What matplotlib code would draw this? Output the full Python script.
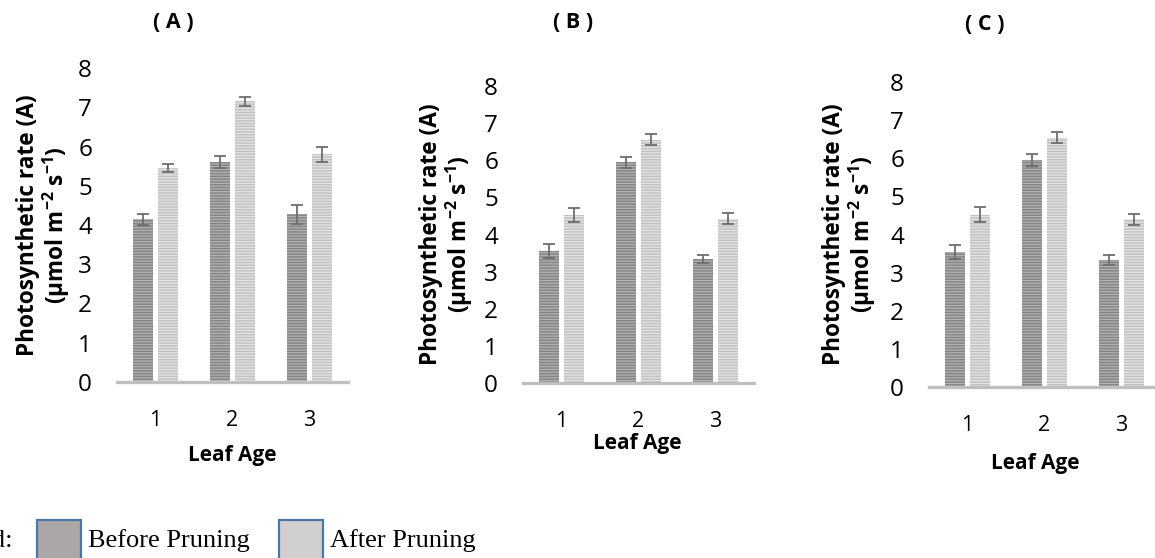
import matplotlib
matplotlib.use("Agg")
import matplotlib.pyplot as plt
import numpy as np
from matplotlib.patches import Rectangle

plt.rcParams["font.family"] = ["Open Sans", "DejaVu Sans"]
plt.rcParams["mathtext.fontset"] = "custom"
plt.rcParams["mathtext.rm"] = "Open Sans"
plt.rcParams["mathtext.bf"] = "Open Sans:bold"
plt.rcParams["hatch.linewidth"] = 1.1

W, H = 1155, 558

# data
leaf_age = [1, 2, 3]
panel_titles = ["( A )", "( B )", "( C )"]

before_a = [4.15, 5.6, 4.27]
before_a_err = [0.14, 0.16, 0.24]
after_a = [5.45, 7.15, 5.8]
after_a_err = [0.10, 0.11, 0.19]

before_b = [3.56, 5.95, 3.34]
before_b_err = [0.18, 0.15, 0.12]
after_b = [4.53, 6.55, 4.42]
after_b_err = [0.19, 0.15, 0.15]

before_c = [3.55, 5.95, 3.33]
before_c_err = [0.18, 0.15, 0.12]
after_c = [4.52, 6.54, 4.40]
after_c_err = [0.19, 0.15, 0.15]

panels = [
    (before_a, before_a_err, after_a, after_a_err),
    (before_b, before_b_err, after_b, after_b_err),
    (before_c, before_c_err, after_c, after_c_err),
]

# layout in pixels: axis-line left, baseline y, top (y=8) y
boxes = [(117, 382, 68), (523, 383, 86), (929, 387, 82)]
ylabel_x = [44, 447, 850]
title_pos = [(173, 23), (573, 22), (985, 24)]
xlabel_pos = [(232, 456), (637, 443), (1035, 463)]

DARK_FACE, DARK_HATCH = "#b3b3b3", "#858585"
LIGHT_FACE, LIGHT_HATCH = "#e4e4e4", "#c2c2c2"
ERR_COLOR = "#6e6e6e"

fig = plt.figure(figsize=(W / 100, H / 100), dpi=100)

x = np.array(leaf_age, dtype=float)
bw = 0.26
off = 0.162

for i, (bef, bef_err, aft, aft_err) in enumerate(panels):
    left, base, top = boxes[i]
    ax = fig.add_axes([left / W, 1 - base / H, 231 / W, (base - top) / H])
    ax.bar(x - off, bef, bw, color=DARK_FACE, edgecolor=DARK_HATCH,
           hatch="------", linewidth=0)
    ax.bar(x + off, aft, bw, color=LIGHT_FACE, edgecolor=LIGHT_HATCH,
           hatch="------", linewidth=0)
    ax.errorbar(x - off, bef, yerr=bef_err, fmt="none", ecolor=ERR_COLOR,
                elinewidth=1.3, capsize=4.5, capthick=1.3)
    ax.errorbar(x + off, aft, yerr=aft_err, fmt="none", ecolor=ERR_COLOR,
                elinewidth=1.3, capsize=4.5, capthick=1.3)
    ax.set_xlim(0.5, 3.5)
    ax.set_ylim(0, 8)
    ax.set_yticks(range(0, 9))
    ax.set_xticks(x)
    ax.set_xticklabels([str(v) for v in leaf_age])
    for s in ["top", "right", "left"]:
        ax.spines[s].set_visible(False)
    ax.spines["bottom"].set_color("#bfbfbf")
    ax.spines["bottom"].set_linewidth(2.4)
    ax.spines["bottom"].set_clip_on(False)
    ax.tick_params(axis="y", length=0, pad=18, labelsize=17.5, labelcolor="black")
    ax.tick_params(axis="x", length=0, pad=20, labelsize=15.5, labelcolor="black")

    fig.text(ylabel_x[i] / W, 1 - (base + top) / 2 / H,
             "Photosynthetic rate (A)\n(µmol m$\\mathbf{^{-2}}$ s$\\mathbf{^{-1}}$)",
             rotation=90, ha="center", va="center", multialignment="center",
             fontsize=16.3, fontweight="bold", linespacing=1.0)
    tx, ty = title_pos[i]
    fig.text(tx / W, 1 - ty / H, panel_titles[i], ha="center", va="center",
             fontsize=15.5, fontweight="bold")
    lx, ly = xlabel_pos[i]
    fig.text(lx / W, 1 - ly / H, "Leaf Age", ha="center", va="center",
             fontsize=15, fontweight="bold")

# legend strip at the bottom (cut off by the page edge)
serif = ["Liberation Serif", "DejaVu Serif"]
fig.text(13 / W, 1 - 547 / H, "Legend:", ha="right", va="baseline",
         fontsize=19, family=serif)
for bx, face, label in [(37, "#aba7a6", "Before Pruning"),
                        (279, "#d1cfd0", "After Pruning")]:
    fig.patches.append(Rectangle((bx / W, 1 - 565 / H), 44 / W, 45 / H,
                                 transform=fig.transFigure, facecolor=face,
                                 edgecolor="#4b79a6", linewidth=1.6))
    fig.text((bx + 51) / W, 1 - 547 / H, label, ha="left", va="baseline",
             fontsize=19, family=serif)

fig.savefig("out.png", dpi=100)
